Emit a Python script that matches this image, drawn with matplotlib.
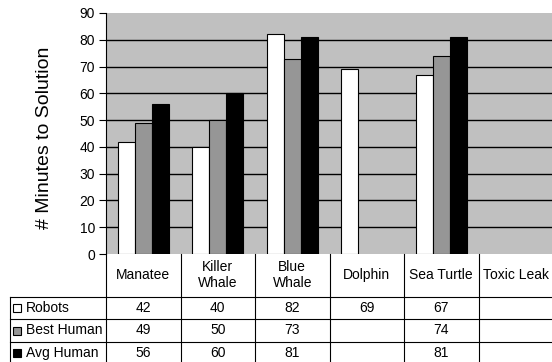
import matplotlib
matplotlib.use('Agg')

import numpy as np
from matplotlib import pyplot as plt
from matplotlib.patches import Rectangle

categories = ['Manatee', 'Killer\nWhale', 'Blue\nWhale', 'Dolphin', 'Sea Turtle', 'Toxic Leak']
series = ['Robots', 'Best Human', 'Avg Human']
robots = [42, 40, 82, 69, 67, None]
best_human = [49, 50, 73, None, 74, None]
avg_human = [56, 60, 81, None, 81, None]
yticks = [0, 10, 20, 30, 40, 50, 60, 70, 80, 90]

colors = ['#ffffff', '#969696', '#000000']
plt.rcParams['font.family'] = ['Liberation Sans', 'DejaVu Sans']

W, H = 552, 362
fig = plt.figure(figsize=(W / 100, H / 100), dpi=100)

# plot area in pixel terms: x 106..553, y 13..254 (from top)
ax = fig.add_axes([106 / W, (H - 254) / H, 447 / W, 241 / H])
ax.set_facecolor('#c0c0c0')
ax.set_xlim(-0.5, len(categories) - 0.5)
ax.set_ylim(0, 90)

width = 0.23
x = np.arange(len(categories))
for k, vals in enumerate([robots, best_human, avg_human]):
    xs = [x[i] + (k - 1) * width for i, v in enumerate(vals) if v is not None]
    hs = [v for v in vals if v is not None]
    ax.bar(xs, hs, width=width, color=colors[k], edgecolor='black',
           linewidth=0.8, zorder=3)

for t in yticks[1:-1]:
    ax.axhline(t, color='black', linewidth=1.0, zorder=1)

ax.set_yticks(yticks)
ax.set_yticklabels([str(t) for t in yticks], fontsize=10)
ax.set_xticks([])
ax.tick_params(axis='y', length=5, width=0.8, pad=3)
for loc in ['top', 'right', 'bottom']:
    ax.spines[loc].set_visible(False)
ax.spines['left'].set_linewidth(0.8)
fig.text(45 / W, 1 - 137.5 / H, '# Minutes to Solution', rotation=90,
         ha='center', va='center', fontsize=14)

# data table underneath the chart, sharing the category x positions
tab = fig.add_axes([106 / W, 0, 447 / W, (H - 254) / H])
tab.set_xlim(-0.5, len(categories) - 0.5)
tab.set_ylim(H, 254)
tab.axis('off')

unit = 447 / len(categories)
x_left = -0.5 - 96 / unit
row_edges = [254, 297, 319, 341.5, H]
row_mid = [308, 330.5, 353]
lw = 0.8

for b in np.arange(-0.5, len(categories), 1.0):
    tab.plot([b, b], [254, H], color='black', lw=lw, clip_on=False)
for y in row_edges[1:4]:
    tab.plot([x_left, len(categories) - 0.5], [y, y], color='black', lw=lw, clip_on=False)
tab.plot([x_left, x_left], [297, H], color='black', lw=lw, clip_on=False)

for i, name in enumerate(categories):
    tab.text(x[i], 275, name, ha='center', va='center', fontsize=10,
             linespacing=1.2)

key = 8 / unit
for k, (name, vals) in enumerate(zip(series, [robots, best_human, avg_human])):
    ym = row_mid[k]
    tab.add_patch(Rectangle((x_left + 3 / unit, ym + 4), key, -8,
                            facecolor=colors[k], edgecolor='black',
                            lw=0.8, clip_on=False))
    tab.text(x_left + 16 / unit, ym, name, ha='left', va='center', fontsize=10)
    for i, v in enumerate(vals):
        if v is not None:
            tab.text(x[i], ym, str(v), ha='center', va='center', fontsize=10)

fig.savefig('out.png', dpi=100)
